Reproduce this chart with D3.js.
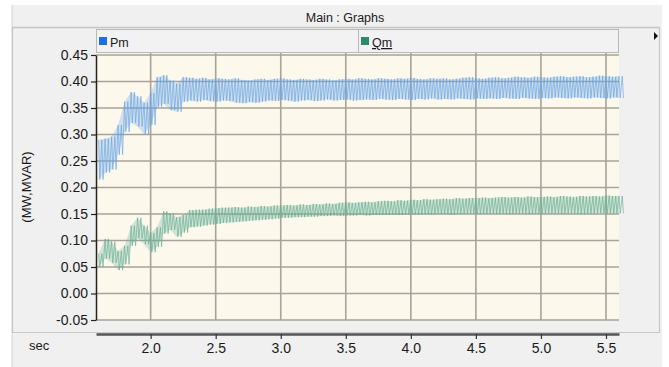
<!DOCTYPE html>
<html><head><meta charset="utf-8">
<script src="https://cdn.jsdelivr.net/npm/d3@7"></script>
<style>
html,body{margin:0;padding:0;background:#fff;}
svg{display:block;}
text{font-family:"Liberation Sans",Arial,sans-serif;fill:#1a1a1a;}
</style></head>
<body>
<svg id="chart" width="669" height="367"></svg>
<script>
// ---- data ----
const time = [1.60,1.65,1.70,1.75,1.80,1.85,1.90,1.95,2.00,2.05,2.10,2.15,2.20,2.25,2.30,2.35,2.40,2.45,2.50,2.55,
  2.60,2.65,2.70,2.75,2.80,2.85,2.90,2.95,3.00,3.05,3.10,3.15,3.20,3.25,3.30,3.35,3.40,3.45,3.50,3.55,
  3.60,3.65,3.70,3.75,3.80,3.85,3.90,3.95,4.00,4.05,4.10,4.15,4.20,4.25,4.30,4.35,4.40,4.45,4.50,4.55,
  4.60,4.65,4.70,4.75,4.80,4.85,4.90,4.95,5.00,5.05,5.10,5.15,5.20,5.25,5.30,5.35,5.40,5.45,5.50,5.55,5.60];
const pmHigh = [0.290,0.292,0.296,0.318,0.362,0.380,0.372,0.360,0.378,0.408,0.412,0.402,0.396,0.408,0.407,0.405,0.407,0.404,0.406,0.405,
  0.404,0.406,0.403,0.402,0.404,0.405,0.403,0.405,0.406,0.404,0.403,0.405,0.404,0.403,0.405,0.404,0.402,0.404,0.405,0.404,
  0.406,0.405,0.404,0.406,0.405,0.404,0.406,0.405,0.407,0.405,0.404,0.406,0.405,0.406,0.404,0.405,0.407,0.408,0.406,0.405,
  0.407,0.408,0.406,0.407,0.409,0.408,0.407,0.409,0.408,0.407,0.409,0.410,0.408,0.409,0.410,0.408,0.409,0.411,0.410,0.409,0.410];
const pmLow = [0.215,0.228,0.234,0.262,0.305,0.322,0.315,0.300,0.318,0.352,0.358,0.346,0.343,0.362,0.364,0.362,0.365,0.363,0.362,0.364,
  0.363,0.360,0.359,0.361,0.360,0.362,0.364,0.363,0.365,0.364,0.362,0.364,0.365,0.363,0.364,0.366,0.364,0.365,0.366,0.364,
  0.365,0.366,0.365,0.367,0.366,0.365,0.367,0.366,0.365,0.367,0.366,0.368,0.366,0.367,0.366,0.368,0.367,0.366,0.368,0.367,
  0.368,0.367,0.369,0.368,0.367,0.369,0.368,0.367,0.369,0.368,0.370,0.369,0.368,0.370,0.369,0.368,0.370,0.369,0.368,0.370,0.369];
const qmHigh = [0.075,0.103,0.098,0.080,0.090,0.128,0.143,0.128,0.114,0.125,0.155,0.151,0.144,0.148,0.157,0.158,0.158,0.160,0.161,0.162,
  0.162,0.163,0.162,0.164,0.163,0.165,0.164,0.166,0.166,0.167,0.166,0.168,0.167,0.169,0.168,0.170,0.169,0.171,0.172,0.171,
  0.172,0.173,0.172,0.174,0.175,0.174,0.176,0.175,0.177,0.176,0.178,0.177,0.178,0.179,0.178,0.180,0.179,0.180,0.180,0.181,
  0.180,0.181,0.182,0.181,0.182,0.181,0.183,0.182,0.182,0.183,0.182,0.184,0.183,0.182,0.184,0.183,0.184,0.183,0.185,0.184,0.184];
const qmLow = [0.050,0.066,0.058,0.044,0.055,0.090,0.104,0.093,0.078,0.088,0.113,0.120,0.107,0.115,0.125,0.126,0.128,0.130,0.131,0.133,
  0.134,0.135,0.136,0.137,0.138,0.139,0.140,0.141,0.143,0.143,0.144,0.144,0.145,0.145,0.146,0.146,0.147,0.146,0.147,0.147,
  0.148,0.147,0.148,0.148,0.148,0.149,0.148,0.149,0.149,0.149,0.150,0.149,0.150,0.150,0.149,0.150,0.150,0.151,0.150,0.150,
  0.151,0.150,0.151,0.150,0.151,0.151,0.150,0.151,0.150,0.151,0.151,0.150,0.151,0.151,0.150,0.151,0.151,0.152,0.151,0.151,0.151];
const xTicks = [2.0,2.5,3.0,3.5,4.0,4.5,5.0,5.5];
const xTickLabels = ["2.0","2.5","3.0","3.5","4.0","4.5","5.0","5.5"];
const yTicks = [-0.05,0,0.05,0.10,0.15,0.20,0.25,0.30,0.35,0.40,0.45];
const yTickLabels = ["-0.05","0.00","0.05","0.10","0.15","0.20","0.25","0.30","0.35","0.40","0.45"];
const seriesNames = ["Pm","Qm"];
const seriesColors = ["#65a3e6","#64ad95"];
const legendColors = ["#1f6fd8","#2b8a6e"];

// ---- layout ----
const svg = d3.select("#chart");
const L = 96, R = 619, T = 53, B = 320;
const x = d3.scaleLinear().domain([1.58, 5.60]).range([L, R]);
const y = d3.scaleLinear().domain([-0.05, 0.45]).range([B, 55]);

// window chrome
svg.append("rect").attr("x",12).attr("y",5).attr("width",650).attr("height",362).attr("fill","#f0f0f0");
svg.append("line").attr("x1",12).attr("x2",12).attr("y1",5).attr("y2",367).attr("stroke","#d2d2d2");
svg.append("line").attr("x1",12).attr("x2",660).attr("y1",27.5).attr("y2",27.5).attr("stroke","#c4c4c4").attr("stroke-width",1.5);
svg.append("text").attr("x",345).attr("y",22).attr("text-anchor","middle").style("font-size","12.5px").text("Main : Graphs");
svg.append("path").attr("d","M12.5,28 V332.5 H659.5 V28").attr("fill","none").attr("stroke","#c8c8c8").attr("stroke-width",1.2);
svg.append("rect").attr("x",662).attr("y",0).attr("width",7).attr("height",367).attr("fill","#fff");
svg.append("path").attr("d","M654,32 L658,36 L654,40 Z").attr("fill","#111");

// legend bar
svg.append("rect").attr("x",96.5).attr("y",29.5).attr("width",522).attr("height",23).attr("fill","#f2f2f2").attr("stroke","#b8b8b8");
svg.append("line").attr("x1",358.5).attr("x2",358.5).attr("y1",30).attr("y2",52).attr("stroke","#b8b8b8");
const legX = [99, 361];
seriesNames.forEach((n,i)=>{
  svg.append("rect").attr("x",legX[i]).attr("y",37).attr("width",8).attr("height",8).attr("fill",legendColors[i]);
  const t = svg.append("text").attr("x",legX[i]+11).attr("y",47).style("font-size","12.5px").text(n);
  if(i===1) t.style("text-decoration","underline");
});

// plot background
svg.append("rect").attr("x",L).attr("y",T).attr("width",R-L).attr("height",B-T).attr("fill","#fdf8ec");

// grid
const grid = svg.append("g").attr("stroke","#a8a29a").attr("stroke-width",1.6);
xTicks.forEach(v=>grid.append("line").attr("x1",x(v)).attr("x2",x(v)).attr("y1",T).attr("y2",B));
yTicks.forEach(v=>grid.append("line").attr("x1",L).attr("x2",R).attr("y1",y(v)).attr("y2",y(v)));

// series bands: dense near-vertical strokes between low and high envelope
function drawSeries(hi, lo, color){
  const area = d3.area().x((d,i)=>x(time[i])).y0((d,i)=>y(lo[i])).y1((d,i)=>y(hi[i]));
  svg.append("path").datum(hi).attr("d",area).attr("fill",color).attr("opacity",0.28);
  const half = x(1.625)-x(1.60);
  const pts = [];
  time.forEach((t,i)=>{
    const xa = x(t);
    pts.push([xa, y(hi[i])], [xa+1.2, y(lo[i])], [xa+half, y(hi[i])], [xa+half+1.2, y(lo[i])]);
  });
  svg.append("path").attr("d", d3.line()(pts)).attr("fill","none").attr("stroke",color).attr("stroke-width",1).attr("opacity",0.65);
}
drawSeries(pmHigh, pmLow, seriesColors[0]);
drawSeries(qmHigh, qmLow, seriesColors[1]);

// y axis
const yAxis = svg.append("g").attr("transform",`translate(${L},0)`)
  .call(d3.axisLeft(y).tickValues(yTicks).tickFormat((d,i)=>yTickLabels[i]).tickSize(5).tickSizeOuter(0));
yAxis.select(".domain").attr("stroke","#222").attr("stroke-width",1.5);
yAxis.selectAll(".tick line").attr("stroke","#222").attr("stroke-width",1.2);
yAxis.selectAll(".tick text").attr("x",-8).style("font-size","14px").style("font-family","'Liberation Sans',Arial,sans-serif").attr("fill","#1a1a1a");

// x axis
const xAxis = svg.append("g").attr("transform",`translate(0,334)`)
  .call(d3.axisBottom(x).tickValues(xTicks).tickFormat((d,i)=>xTickLabels[i]).tickSize(5).tickSizeOuter(0));
xAxis.select(".domain").attr("stroke","#555").attr("stroke-width",2.5);
xAxis.selectAll(".tick line").attr("stroke","#333").attr("stroke-width",1.2);
xAxis.selectAll(".tick text").attr("y",9).style("font-size","14px").style("font-family","'Liberation Sans',Arial,sans-serif").attr("fill","#1a1a1a");

svg.append("text").attr("x",29).attr("y",350).style("font-size","13px").text("sec");
svg.append("text").attr("transform","translate(31,187) rotate(-90)").attr("text-anchor","middle").style("font-size","13px").text("(MW,MVAR)");
</script>
</body></html>
